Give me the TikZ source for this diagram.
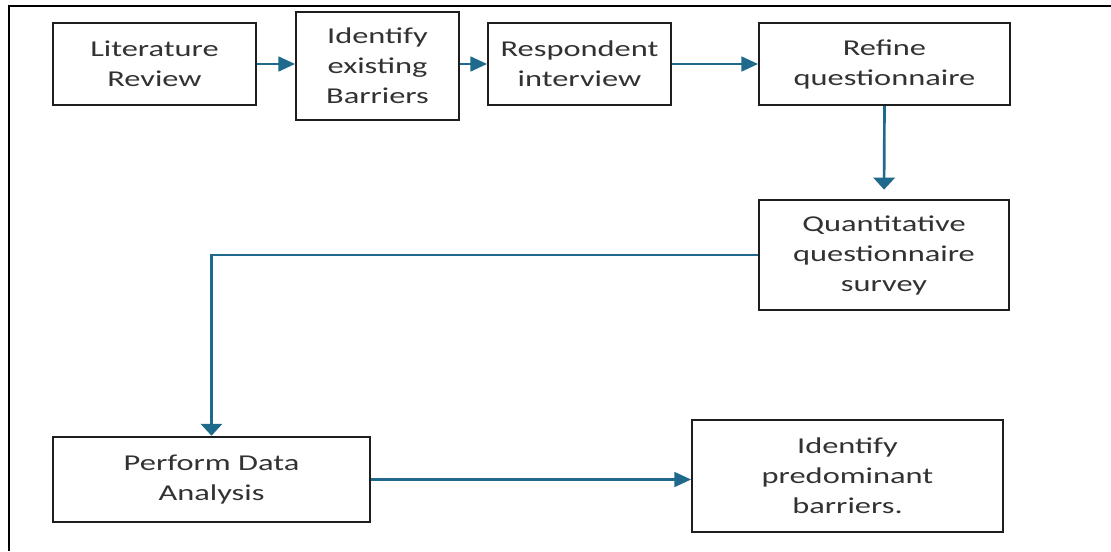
\documentclass[tikz,border=0pt]{standalone}
\usepackage{fontspec}
\setmainfont{Carlito}[FakeStretch=1.43]
\usetikzlibrary{arrows.meta}
\definecolor{arrowblue}{RGB}{31,106,140}
\definecolor{boxline}{RGB}{30,30,30}
\definecolor{txt}{RGB}{50,50,50}
\tikzset{
  stepbox/.style={draw=boxline, line width=1.6pt, fill=white, inner sep=0pt, align=center,
    text=txt, font=\fontsize{17pt}{22.5pt}\selectfont},
  harrow/.style={draw=arrowblue, line width=2pt, -{Triangle[length=12.5pt,width=11pt]}},
  varrow/.style={draw=arrowblue, line width=2pt, -{Triangle[length=9pt,width=16pt]}},
  vline/.style={draw=arrowblue, line width=2pt}
}
\begin{document}
\begin{tikzpicture}[x=0.75pt,y=-0.75pt]
\useasboundingbox (0,0) rectangle (1111,551);
\fill[white] (0,0) rectangle (1111,551);
\draw[line width=1.6pt, black] (9,551) -- (9,6) -- (1111,6);

\node[stepbox, minimum width=152pt, minimum height=61.5pt] (lit) at (154.5,64) {Literature\\Review};
\node[stepbox, minimum width=122pt, minimum height=81pt] (iden) at (377.5,66) {Identify\\existing\\Barriers};
\node[stepbox, minimum width=137pt, minimum height=61.5pt] (resp) at (579.5,64) {Respondent\\interview};
\node[stepbox, minimum width=188pt, minimum height=61.5pt] (refine) at (884.5,64) {Refine\\questionnaire};
\node[stepbox, minimum width=187.5pt, minimum height=82.5pt] (quant) at (884,255) {Quantitative\\questionnaire\\survey};
\node[stepbox, minimum width=238pt, minimum height=64pt] (perf) at (211.5,479.5) {Perform Data\\Analysis};
\node[stepbox, minimum width=233pt, minimum height=84pt] (pred) at (847.5,476) {Identify\\predominant\\barriers.};

\draw[harrow] (lit.east) -- (lit.east -| iden.west);
\draw[harrow] (resp.west -| iden.east) -- (resp.west);
\draw[harrow] (resp.east) -- (refine.west);
\draw[varrow, shorten >=7pt] (refine.south) -- (quant.north);
\draw[varrow] (quant.west) -| (perf.north);
\draw[harrow] (perf.east) -- (perf.east -| pred.west);
\end{tikzpicture}
\end{document}
